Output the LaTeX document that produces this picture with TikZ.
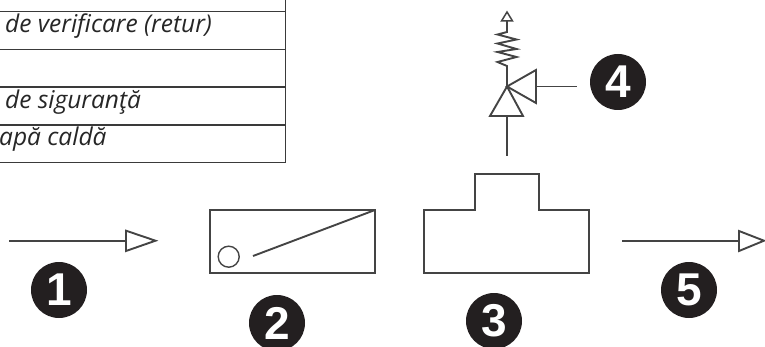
\documentclass[tikz,border=0pt]{standalone}
\usepackage{fontspec}
\setmainfont{Open Sans}
\newfontfamily\badgefont{Liberation Sans}
\definecolor{ink}{HTML}{444444}
\definecolor{rulecol}{HTML}{3A3A3A}
\definecolor{badgecol}{HTML}{231F20}
\tikzset{
  sym/.style={draw=ink,line width=1.9pt,line join=miter},
  rulel/.style={draw=rulecol,line width=1.2pt},
  disc/.style={circle,fill=badgecol,minimum size=56pt,inner sep=0pt},
  digit/.style={inner sep=0pt,text=white,font=\badgefont\bfseries\fontsize{46}{46}\selectfont},
  celltext/.style={anchor=base west,inner sep=0pt,text=black!85,font=\itshape\fontsize{24.5}{28}\selectfont},
}
\begin{document}
\begin{tikzpicture}[x=1pt,y=-1pt]
\useasboundingbox (0,0) rectangle (765,347);
\clip (0,0) rectangle (765,347);
% table fragment
\draw[rulel] (285.7,0) -- (285.7,162.7);
\draw[rulel] (0,11.7) -- (285.7,11.7);
\draw[rulel] (0,49.3) -- (285.7,49.3);
\draw[rulel] (0,87) -- (285.7,87);
\draw[rulel] (0,125) -- (285.7,125);
\draw[rulel] (0,162.7) -- (285.7,162.7);
\node[celltext] (t1) at (5,32.5) {de verificare (retur)};
\node[celltext] (t2) at (5,108.5) {de siguranţă};
\node[celltext] (t3) at (-1,145.5) {apă caldă};
% inlet arrow
\coordinate (a1) at (9,240.7);
\coordinate (a2) at (126,240.7);
\draw[sym] (a1) -- (a2);
\draw[sym] (126,230.7) -- (155.5,240.7) -- (126,251) -- cycle;
% box 2
\draw[sym] (210.3,210) rectangle (375,273);
\draw[sym,line width=1.4pt] (228.7,256.7) circle (10.5);
\draw[sym] (253,256) -- (375,210);
% shape 3
\draw[sym] (424,273) -- (424,210) -- (475,210) -- (475,174) -- (539,174) -- (539,210) -- (589,210) -- (589,273) -- cycle;
% outlet arrow
\coordinate (b1) at (622,240.7);
\coordinate (b2) at (739,240.7);
\draw[sym] (b1) -- (b2);
\draw[sym] (739,231) -- (764,240.7) -- (739,251) -- cycle;
% valve
\draw[sym] (507,156) -- (507,116);
\draw[sym] (490,116) -- (523,116) -- (507,86.5) -- cycle;
\draw[sym] (507,86.5) -- (536,70) -- (536,103) -- cycle;
\draw[sym] (536,86.5) -- (577,86.5);
\draw[sym] (507,86.5) -- (507,66) -- (497.5,62) -- (516.5,57) -- (497.5,52) -- (516.5,49) -- (497.5,43.5) -- (516.5,39.5) -- (497.5,34.5) -- (507,32) -- (507,21);
\draw[sym,line width=1.5pt] (501.5,21) -- (512.5,21) -- (507,12) -- cycle;
% badges
\node[disc] (d1) at (59,290) {};
\node[disc] (d2) at (277,323) {};
\node[disc] (d3) at (494,321) {};
\node[disc] (d4) at (618,82) {};
\node[disc] (d5) at (689,290) {};
\node[digit] (n1) at (d1) {1};
\node[digit] (n2) at (d2) {2};
\node[digit] (n3) at (d3) {3};
\node[digit] (n4) at (d4) {4};
\node[digit] (n5) at (d5) {5};
\end{tikzpicture}
\end{document}
